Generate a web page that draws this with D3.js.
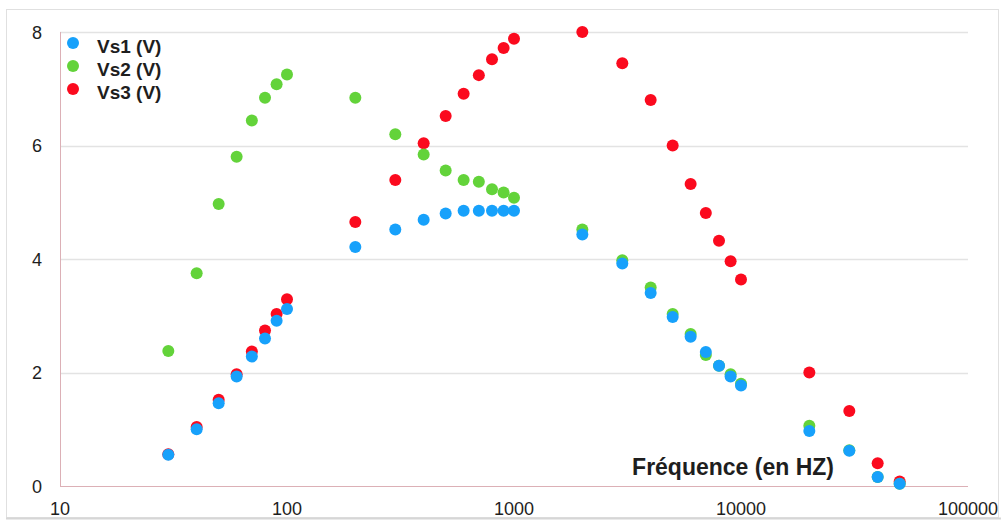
<!DOCTYPE html>
<html>
<head>
<meta charset="utf-8">
<script src="https://cdn.jsdelivr.net/npm/d3@7"></script>
<style>
	body { margin: 0; background: #ffffff; }
	svg { display: block; font-family: 'Liberation Sans', Arial, Helvetica, sans-serif; }
</style>
</head>
<body>
<svg id="chart"></svg>
<script>
// ========== DATA ==========
var freqs = [30, 40, 50, 60, 70, 80, 90, 100, 200, 300, 400, 500, 600, 700, 800, 900, 1000,
	2000, 3000, 4000, 5000, 6000, 7000, 8000, 9000, 10000, 20000, 30000, 40000, 50000];

var vs1 = [0.55, 1.00, 1.46, 1.93, 2.28, 2.60, 2.91, 3.12, 4.21, 4.52, 4.69, 4.80, 4.85, 4.85, 4.85, 4.85, 4.85,
	4.43, 3.92, 3.40, 2.98, 2.63, 2.36, 2.12, 1.93, 1.77, 0.97, 0.62, 0.16, 0.04];
var vs2 = [2.38, 3.75, 4.97, 5.80, 6.44, 6.84, 7.08, 7.25, 6.84, 6.20, 5.84, 5.56, 5.39, 5.36, 5.23, 5.17, 5.08,
	4.52, 3.98, 3.50, 3.03, 2.68, 2.31, 2.12, 1.97, 1.80, 1.06, 0.63, 0.16, 0.04];
var vs3 = [0.56, 1.04, 1.52, 1.97, 2.37, 2.74, 3.03, 3.29, 4.65, 5.39, 6.04, 6.52, 6.91, 7.24, 7.52, 7.72, 7.88,
	8.00, 7.45, 6.80, 6.00, 5.32, 4.81, 4.32, 3.96, 3.64, 2.00, 1.32, 0.40, 0.08];

var seriesNames = ['Vs1 (V)', 'Vs2 (V)', 'Vs3 (V)'];
var xTicks = [10, 100, 1000, 10000, 100000];
var yTicks = [0, 2, 4, 6, 8];
var xTitle = 'Fréquence (en HZ)';

// ========== CONSTANTS ==========
var width = 1001;
var height = 524;
var colors = ['#17a1fb', '#63d33a', '#fb0a1e'];
var axisColor = '#dcb0b6';
var gridColor = '#e3e3e3';
var textColor = '#1e1e1e';
var rad = 6;

var svg = d3.select('svg#chart')
	.attr('width', width)
	.attr('height', height);

// outer frame
svg.append('rect')
	.attr('x', 6.5)
	.attr('y', 9.5)
	.attr('width', 992)
	.attr('height', 508)
	.attr('fill', 'none')
	.attr('stroke', '#e0e0e0');
svg.append('line')
	.attr('x1', 6).attr('x2', width)
	.attr('y1', 518.5).attr('y2', 518.5)
	.attr('stroke', '#d6d6d6')
	.attr('stroke-width', 2);

// scales
var x = d3.scaleLog()
	.domain([10, 100000])
	.range([60, 968]);
var y = d3.scaleLinear()
	.domain([0, 8])
	.range([486, 32]);

// grid lines
svg.append('g')
	.selectAll('line')
	.data(yTicks.filter(function(d) { return d > 0; }))
	.enter().append('line')
		.attr('x1', x(10))
		.attr('x2', x(100000))
		.attr('y1', function(d) { return Math.round(y(d)) + 0.5; })
		.attr('y2', function(d) { return Math.round(y(d)) + 0.5; })
		.attr('stroke', gridColor)
		.attr('stroke-width', 1.5);

// axes lines
svg.append('line')
	.attr('x1', x(10) + 0.5).attr('x2', x(10) + 0.5)
	.attr('y1', y(8)).attr('y2', y(0))
	.attr('stroke', axisColor);
svg.append('line')
	.attr('x1', x(10)).attr('x2', x(100000))
	.attr('y1', y(0) + 0.5).attr('y2', y(0) + 0.5)
	.attr('stroke', axisColor);

// tick labels
svg.append('g')
	.selectAll('text')
	.data(yTicks)
	.enter().append('text')
		.attr('x', 42)
		.attr('y', function(d) { return y(d) + 6.5; })
		.attr('text-anchor', 'end')
		.attr('fill', textColor)
		.style('font-size', '18px')
		.text(function(d) { return d; });

svg.append('g')
	.selectAll('text')
	.data(xTicks)
	.enter().append('text')
		.attr('x', function(d) { return x(d); })
		.attr('y', 515)
		.attr('text-anchor', 'middle')
		.attr('fill', textColor)
		.style('font-size', '18px')
		.text(function(d) { return d; });

// axis title
svg.append('text')
	.attr('x', 834)
	.attr('y', 475)
	.attr('text-anchor', 'end')
	.attr('fill', textColor)
	.style('font-size', '23px')
	.style('font-weight', 'bold')
	.text(xTitle);

// points: Vs3 first, Vs1 on top
var allSeries = [vs1, vs2, vs3];
[2, 1, 0].forEach(function(s) {
	svg.append('g')
		.selectAll('circle')
		.data(allSeries[s])
		.enter().append('circle')
			.attr('cx', function(d, i) { return x(freqs[i]); })
			.attr('cy', function(d) { return y(d); })
			.attr('r', rad)
			.attr('fill', colors[s]);
});

// legend
var legend = svg.append('g')
	.selectAll('g')
	.data(seriesNames)
	.enter().append('g')
		.attr('transform', function(d, i) { return 'translate(73,' + (43 + i * 23) + ')'; });
legend.append('circle')
	.attr('r', rad)
	.attr('fill', function(d, i) { return colors[i]; });
legend.append('text')
	.attr('x', 24)
	.attr('y', 9.5)
	.attr('fill', textColor)
	.style('font-size', '19px')
	.style('font-weight', 'bold')
	.text(function(d) { return d; });
</script>
</body>
</html>
